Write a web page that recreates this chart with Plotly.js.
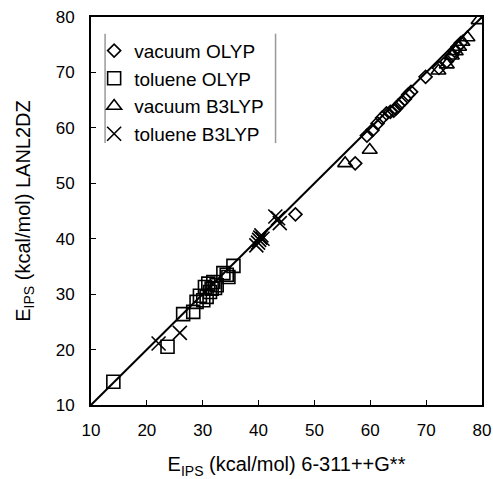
<!DOCTYPE html>
<html>
<head>
<meta charset="utf-8">
<script src="https://cdn.plot.ly/plotly-3.0.1.min.js"></script>
<style>html,body{margin:0;padding:0;background:#fff}#chart{width:493px;height:479px}</style>
</head>
<body>
<div id="chart"></div>
<script>
// Series data (x: 6-311++G**, y: LANL2DZ), kcal/mol
const vacuumOLYP_x = [46.6, 57.3, 59.4, 60.4, 61.3, 62.1, 62.9, 63.6, 64.2, 64.6, 65.0, 65.5, 66.2, 66.8, 67.3, 69.9, 72.3, 73.7, 74.6, 75.1, 75.6, 76.2];
const vacuumOLYP_y = [44.4, 53.6, 58.6, 59.6, 60.8, 61.8, 62.6, 62.9, 63.1, 63.5, 64.0, 64.5, 65.2, 66.0, 66.5, 69.2, 70.8, 72.0, 73.0, 73.9, 74.6, 75.3];

const tolueneOLYP_x = [14.0, 23.7, 26.5, 28.3, 28.9, 29.5, 30.1, 30.4, 30.7, 31.0, 31.3, 31.6, 31.9, 32.2, 32.5, 33.7, 34.3, 34.6, 35.5];
const tolueneOLYP_y = [14.2, 20.5, 26.4, 26.8, 28.6, 29.7, 28.9, 31.3, 29.5, 31.9, 30.4, 31.0, 32.2, 31.1, 31.6, 33.8, 33.5, 33.1, 35.1];

const vacuumB3LYP_x = [55.5, 59.9, 72.2, 73.7, 74.6, 75.3, 75.9, 76.5, 77.4, 79.4];
const vacuumB3LYP_y = [53.6, 56.0, 70.3, 71.4, 73.0, 73.8, 74.6, 75.5, 76.3, 79.4];

const tolueneB3LYP_x = [22.1, 25.9, 39.6, 39.9, 40.1, 40.3, 40.5, 40.7, 43.0, 43.5, 43.8];
const tolueneB3LYP_y = [21.1, 23.0, 38.8, 39.3, 39.8, 40.2, 40.6, 40.0, 44.0, 43.7, 42.8];

const seriesNames = ["vacuum OLYP", "toluene OLYP", "vacuum B3LYP", "toluene B3LYP"];
const identityLine = [10, 80];
const tickVals = [10, 20, 30, 40, 50, 60, 70, 80];

const mk = (sym, size) => ({symbol: sym, size: size, color: "black", line: {color: "black", width: 1.6}});

const traces = [
  {x: identityLine, y: identityLine, mode: "lines", line: {color: "black", width: 2}, showlegend: false, hoverinfo: "skip"},
  {x: vacuumOLYP_x, y: vacuumOLYP_y, mode: "markers", name: seriesNames[0], marker: mk("diamond-open", 10)},
  {x: tolueneOLYP_x, y: tolueneOLYP_y, mode: "markers", name: seriesNames[1], marker: mk("square-open", 13)},
  {x: vacuumB3LYP_x, y: vacuumB3LYP_y, mode: "markers", name: seriesNames[2], marker: mk("triangle-up-open", 13)},
  {x: tolueneB3LYP_x, y: tolueneB3LYP_y, mode: "markers", name: seriesNames[3], marker: mk("x-thin-open", 14)}
];

const axisCommon = {
  range: [10, 80], tickvals: tickVals, ticks: "inside", ticklen: 5, tickwidth: 1, tickcolor: "black",
  showline: true, linecolor: "black", linewidth: 2, mirror: true, showgrid: false, zeroline: false,
  tickfont: {family: "Liberation Sans, Arial, sans-serif", size: 17, color: "black"}
};

const layout = {
  width: 493, height: 479,
  margin: {l: 91, r: 11, t: 17, b: 74},
  paper_bgcolor: "white", plot_bgcolor: "white",
  font: {family: "Liberation Sans, Arial, sans-serif", color: "black"},
  xaxis: Object.assign({}, axisCommon, {
    ticklabelstandoff: 9,
    title: {text: "E<sub>IPS</sub> (kcal/mol) 6-311++G**", font: {size: 20}, standoff: 18}
  }),
  yaxis: Object.assign({}, axisCommon, {
    ticklabelstandoff: 11,
    title: {text: "E<sub>IPS</sub> (kcal/mol) LANL2DZ", font: {size: 20}, standoff: 20}
  }),
  showlegend: true,
  legend: {
    x: 0.008, y: 0.962, xanchor: "left", yanchor: "top",
    bgcolor: "rgba(255,255,255,0)", borderwidth: 0,
    font: {size: 19, color: "black"}, tracegroupgap: 0, itemwidth: 30
  },
  shapes: [
    {type: "line", xref: "paper", yref: "paper", x0: 0.036, x1: 0.036, y0: 0.675, y1: 0.957, line: {color: "#999", width: 1.5}},
    {type: "line", xref: "paper", yref: "paper", x0: 0.472, x1: 0.472, y0: 0.675, y1: 0.957, line: {color: "#999", width: 1.5}}
  ]
};

Plotly.newPlot("chart", traces, layout, {staticPlot: true, displayModeBar: false});
</script>
</body>
</html>
